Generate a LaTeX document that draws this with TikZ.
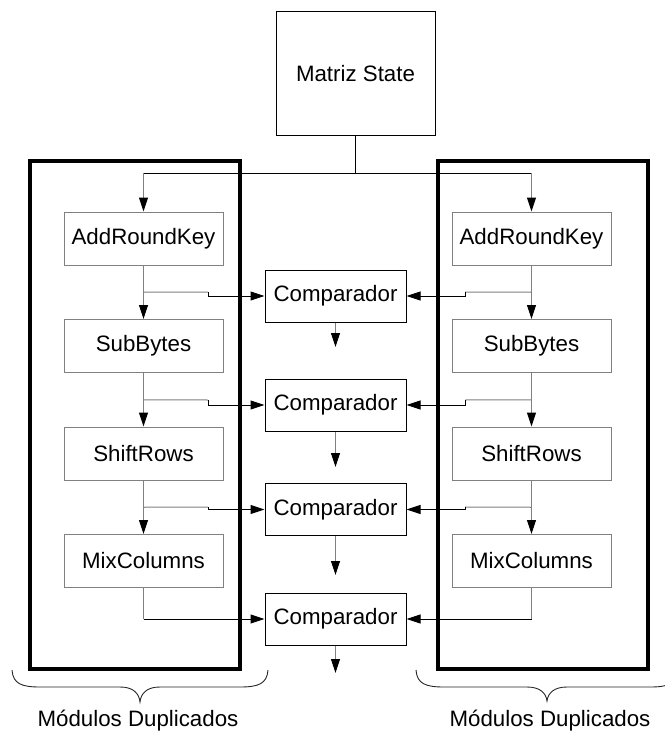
\documentclass[tikz,border=0pt]{standalone}
\usepackage{fontspec}
\setmainfont{Liberation Sans}
\usetikzlibrary{arrows.meta,calc}
\definecolor{linegray}{HTML}{808080}
\begin{document}
\begin{tikzpicture}[x=1pt,y=-1pt,
  lbl/.style={font=\fontsize{22.3}{26}\selectfont},
  stage/.style={draw=linegray,line width=1pt,minimum width=159pt,minimum height=53pt,inner sep=0pt,lbl},
  comp/.style={draw=black,line width=1pt,minimum width=141pt,minimum height=52pt,inner sep=0pt,lbl},
  statebox/.style={draw=black,line width=1pt,minimum width=159pt,minimum height=123pt,inner sep=0pt,lbl},
  modbox/.style={draw=black,line width=4pt,minimum width=210pt,minimum height=508pt,inner sep=0pt},
  wire/.style={line width=1pt,draw=black},
  gwire/.style={line width=1pt,draw=linegray},
  arr/.style={-{Triangle[length=14pt,width=9pt,color=black]}},
  bracepath/.style={line width=0.9pt,draw=black!85},
]
\useasboundingbox (0,0) rectangle (664,733);

% grouping frames of the duplicated modules
\node[modbox] (ML) at (134.5,415) {};
\node[modbox] (MR) at (543,415) {};

% state matrix
\node[statebox] (ST) at (355.5,73.5) {Matriz State};

% left module stages
\node[stage] (AK1) at (143.5,238.5) {AddRoundKey};
\node[stage] (SB1) at (143.5,346) {SubBytes};
\node[stage] (SR1) at (143.5,453.5) {ShiftRows};
\node[stage] (MC1) at (143.5,561) {MixColumns};

% right module stages
\node[stage] (AK2) at (531.5,238.5) {AddRoundKey};
\node[stage] (SB2) at (531.5,346) {SubBytes};
\node[stage] (SR2) at (531.5,453.5) {ShiftRows};
\node[stage] (MC2) at (531.5,561) {MixColumns};

% comparators
\node[comp] (C1) at (335.5,296) {Comparador};
\node[comp] (C2) at (335.5,405) {Comparador};
\node[comp] (C3) at (335.5,509.5) {Comparador};
\node[comp] (C4) at (335.5,619) {Comparador};

% distribution bus from the state matrix
\coordinate (bus) at (355.5,173);
\coordinate (busL) at (143.5,173);
\coordinate (busR) at (531.5,173);
\draw[wire] (ST.south) -- (bus);
\draw[wire] (busL) -- (busR);
\draw[gwire,arr] (busL) -- (AK1.north);
\draw[gwire,arr] (busR) -- (AK2.north);

% stage chains
\draw[gwire,arr] (AK1.south) -- (SB1.north);
\draw[gwire,arr] (SB1.south) -- (SR1.north);
\draw[gwire,arr] (SR1.south) -- (MC1.north);
\draw[gwire,arr] (AK2.south) -- (SB2.north);
\draw[gwire,arr] (SB2.south) -- (SR2.north);
\draw[gwire,arr] (SR2.south) -- (MC2.north);

% taps from the left chain into the comparators
\coordinate (tL1) at ($(AK1.south)!0.5!(SB1.north)$);
\coordinate (tL2) at ($(SB1.south)!0.5!(SR1.north)$);
\coordinate (tL3) at ($(SR1.south)!0.5!(MC1.north)$);
\coordinate (jL1) at (208,292);
\coordinate (jL2) at (208,400);
\coordinate (jL3) at (208,507);
\draw[gwire] (tL1) -- (jL1);
\draw[gwire] (tL2) -- (jL2);
\draw[gwire] (tL3) -- (jL3);
\draw[wire,arr] (jL1) |- (C1.west);
\draw[wire,arr] (jL2) |- (C2.west);
\draw[wire,arr] (jL3) |- (C3.west);
\coordinate (eL4) at (143.5,619);
\draw[gwire] (MC1.south) -- (eL4);
\draw[wire,arr] (eL4) -- (C4.west);

% taps from the right chain into the comparators
\coordinate (tR1) at ($(AK2.south)!0.5!(SB2.north)$);
\coordinate (tR2) at ($(SB2.south)!0.5!(SR2.north)$);
\coordinate (tR3) at ($(SR2.south)!0.5!(MC2.north)$);
\coordinate (jR1) at (465,292);
\coordinate (jR2) at (465,400);
\coordinate (jR3) at (465,507);
\draw[gwire] (tR1) -- (jR1);
\draw[gwire] (tR2) -- (jR2);
\draw[gwire] (tR3) -- (jR3);
\draw[wire,arr] (jR1) |- (C1.east);
\draw[wire,arr] (jR2) |- (C2.east);
\draw[wire,arr] (jR3) |- (C3.east);
\coordinate (eR4) at (531.5,619);
\draw[gwire] (MC2.south) -- (eR4);
\draw[wire,arr] (eR4) -- (C4.east);

% comparator outputs
\coordinate (o1) at (335.5,347);
\coordinate (o2) at (335.5,467);
\coordinate (o3) at (335.5,575);
\coordinate (o4) at (335.5,673);
\draw[gwire,arr] (C1.south) -- (o1);
\draw[gwire,arr] (C2.south) -- (o2);
\draw[gwire,arr] (C3.south) -- (o3);
\draw[gwire,arr] (C4.south) -- (o4);

% braces and captions
\draw[bracepath] (12,670) .. controls (13,684) and (22,687) .. (40,687)
  -- (120,687) .. controls (133,687) and (139,693) .. (140,702)
  .. controls (141,693) and (147,687) .. (160,687)
  -- (240,687) .. controls (258,687) and (267,684) .. (268,670);
\draw[bracepath] (416,670) .. controls (417,684) and (426,687) .. (444,687)
  -- (527,687) .. controls (540,687) and (546,693) .. (547,701)
  .. controls (548,693) and (554,687) .. (567,687)
  -- (650,687) .. controls (668,687) and (677,684) .. (678,670);
\node[lbl] (capL) at (138,721) {Módulos Duplicados};
\node[lbl] (capR) at (550,721) {Módulos Duplicados};
\end{tikzpicture}
\end{document}
